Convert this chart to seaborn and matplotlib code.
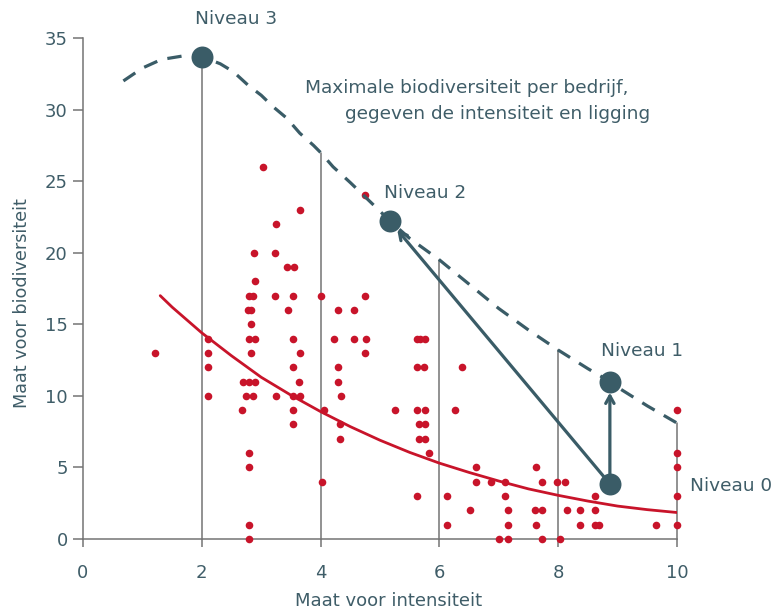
import numpy as np
import pandas as pd
import matplotlib
matplotlib.use('Agg')
import matplotlib.pyplot as plt
import seaborn as sns

# scatter: company measurements (intensity, biodiversity)
pts_x = [3.03, 4.75, 3.65, 3.25, 2.88, 3.24, 3.44, 3.56, 2.89,
         2.80, 2.86, 3.24, 3.53, 4.01, 4.75,
         2.77, 2.83, 3.45, 4.29, 4.56, 2.82,
         2.11, 2.79, 2.89, 3.53, 4.23, 4.56, 4.76, 5.63, 5.68, 5.76,
         1.22, 2.11, 2.83, 3.65, 4.75,
         2.11, 3.53, 4.29, 5.63, 5.74, 6.38,
         2.69, 2.79, 2.89, 3.64, 4.29,
         2.11, 2.75, 2.86, 3.25, 3.53, 3.65, 4.35,
         2.67, 3.53, 4.05, 5.26, 5.63, 5.76, 6.27, 10.0,
         3.53, 4.33, 5.66, 5.76,
         4.33, 5.66, 5.76,
         2.79, 5.83, 10.0,
         2.79, 6.62, 7.63, 10.0,
         4.02, 6.62, 6.87, 7.11, 7.72, 7.98, 8.11,
         5.63, 6.12, 7.11, 8.62, 10.0,
         6.52, 7.15, 7.61, 7.73, 8.15, 8.37, 8.62,
         2.79, 6.12, 7.15, 7.63, 8.36, 8.62, 8.69, 9.65, 10.0,
         2.79, 7.0, 7.15, 7.73, 8.03]
pts_y = [26, 24, 23, 22, 20, 20, 19, 19, 18,
         17, 17, 17, 17, 17, 17,
         16, 16, 16, 16, 16, 15,
         14, 14, 14, 14, 14, 14, 14, 14, 14, 14,
         13, 13, 13, 13, 13,
         12, 12, 12, 12, 12, 12,
         11, 11, 11, 11, 11,
         10, 10, 10, 10, 10, 10, 10,
         9, 9, 9, 9, 9, 9, 9, 9,
         8, 8, 8, 8,
         7, 7, 7,
         6, 6, 6,
         5, 5, 5, 5,
         4, 4, 4, 4, 4, 4, 4,
         3, 3, 3, 3, 3,
         2, 2, 2, 2, 2, 2, 2,
         1, 1, 1, 1, 1, 1, 1, 1, 1,
         0, 0, 0, 0, 0]

# red trend curve
trend_x = [1.3, 1.5, 2.0, 2.5, 3.0, 3.5, 4.0, 4.5, 5.0, 5.5, 6.0, 6.5,
           7.0, 7.5, 8.0, 8.5, 9.0, 9.5, 10.0]
trend_y = [17.0, 16.2, 14.4, 12.8, 11.3, 10.05, 8.9, 7.85, 6.9, 6.05, 5.3,
           4.65, 4.05, 3.5, 3.05, 2.65, 2.3, 2.05, 1.85]

# dashed curve: maximal biodiversity
max_x = [0.68, 1.0, 1.32, 1.69, 2.0, 2.31, 2.53, 2.78, 3.0, 3.2, 3.43, 3.65,
         3.88, 4.0, 4.21, 4.5, 5.0, 5.17, 5.5, 6.0, 6.5, 7.0, 7.5, 8.0,
         8.5, 8.87, 9.0, 9.5, 10.0]
max_y = [32.0, 32.9, 33.5, 33.75, 33.7, 33.2, 32.65, 31.7, 31.0, 30.2, 29.4,
         28.35, 27.5, 27.0, 26.0, 24.9, 22.9, 22.2, 21.0, 19.5, 17.8, 16.1,
         14.6, 13.2, 11.9, 11.0, 10.6, 9.3, 8.1]

levels = ['Niveau 0', 'Niveau 1', 'Niveau 2', 'Niveau 3']
level_x = [8.87, 8.87, 5.17, 2.0]
level_y = [3.85, 11.0, 22.2, 33.7]

grid_x = [2, 4, 6, 8, 10]

teal = '#3a5c67'
red = '#c8142a'
gray = '#747474'
txt = '#3f5d68'

sns.set_theme(style='white')
plt.rcParams['font.family'] = ['DejaVu Sans']

fig = plt.figure(figsize=(7.74, 6.09), dpi=100)
ax = fig.add_axes([83 / 774, 70 / 609, 594 / 774, 501 / 609])

# vertical lines up to the dashed curve
for gx in grid_x:
    top = max_y[max_x.index(gx)]
    ax.plot([gx, gx], [0, top], color=gray, lw=1.1, zorder=1, clip_on=False)

df = pd.DataFrame({'x': pts_x, 'y': pts_y})
sns.scatterplot(data=df, x='x', y='y', color=red, s=30, linewidth=0,
                ax=ax, zorder=3, clip_on=False)

sns.lineplot(x=trend_x, y=trend_y, color=red, lw=2.0, ax=ax, zorder=4,
             sort=False)
ax.plot(max_x, max_y, color=teal, lw=2.3, ls=(0, (4.5, 3.3)), zorder=5)

# arrows
arrow = dict(arrowstyle='->,head_length=0.45,head_width=0.25',
             lw=2.3, color=teal, shrinkA=0, shrinkB=8)
ax.annotate('', xy=(level_x[2], level_y[2]), xytext=(level_x[0], level_y[0]),
            arrowprops=arrow, zorder=6)
ax.annotate('', xy=(level_x[1], level_y[1]), xytext=(level_x[0], level_y[0]),
            arrowprops=arrow, zorder=6)

ax.scatter(level_x, level_y, s=250, color=teal, zorder=7, linewidth=0,
           clip_on=False)

fs = 13.3
ax.text(2.58, 36.3, levels[3], ha='center', va='center', color=txt, fontsize=fs)
ax.text(5.07, 24.2, levels[2], ha='left', va='center', color=txt, fontsize=fs)
ax.text(8.72, 13.1, levels[1], ha='left', va='center', color=txt, fontsize=fs)
ax.text(10.22, 3.7, levels[0], ha='left', va='center', color=txt, fontsize=fs)
ax.text(3.74, 31.5, 'Maximale biodiversiteit per bedrijf,', ha='left',
        va='center', color=txt, fontsize=fs)
ax.text(4.41, 29.7, 'gegeven de intensiteit en ligging', ha='left',
        va='center', color=txt, fontsize=fs)

ax.set_xlim(0, 10)
ax.set_ylim(0, 35)
ax.set_xticks(range(0, 11, 2))
ax.set_yticks(range(0, 36, 5))
for s in ['top', 'right']:
    ax.spines[s].set_visible(False)
for s in ['left', 'bottom']:
    ax.spines[s].set_color(gray)
    ax.spines[s].set_linewidth(1.1)
ax.tick_params(axis='x', direction='out', length=6, width=1.1, color=gray,
               pad=12, labelsize=13, labelcolor=txt, bottom=True)
ax.tick_params(axis='y', direction='out', length=7, width=1.1, color=gray,
               pad=4, labelsize=13, labelcolor=txt, left=True)
ax.set_xlabel('Maat voor intensiteit', color=txt, fontsize=13)
ax.set_ylabel('Maat voor biodiversiteit', color=txt, fontsize=12.7)
ax.xaxis.set_label_coords(0.515, -0.105)
ax.yaxis.set_label_coords(-0.087, 0.47)
ax.patch.set_alpha(0)

fig.savefig('out.png', dpi=100)
